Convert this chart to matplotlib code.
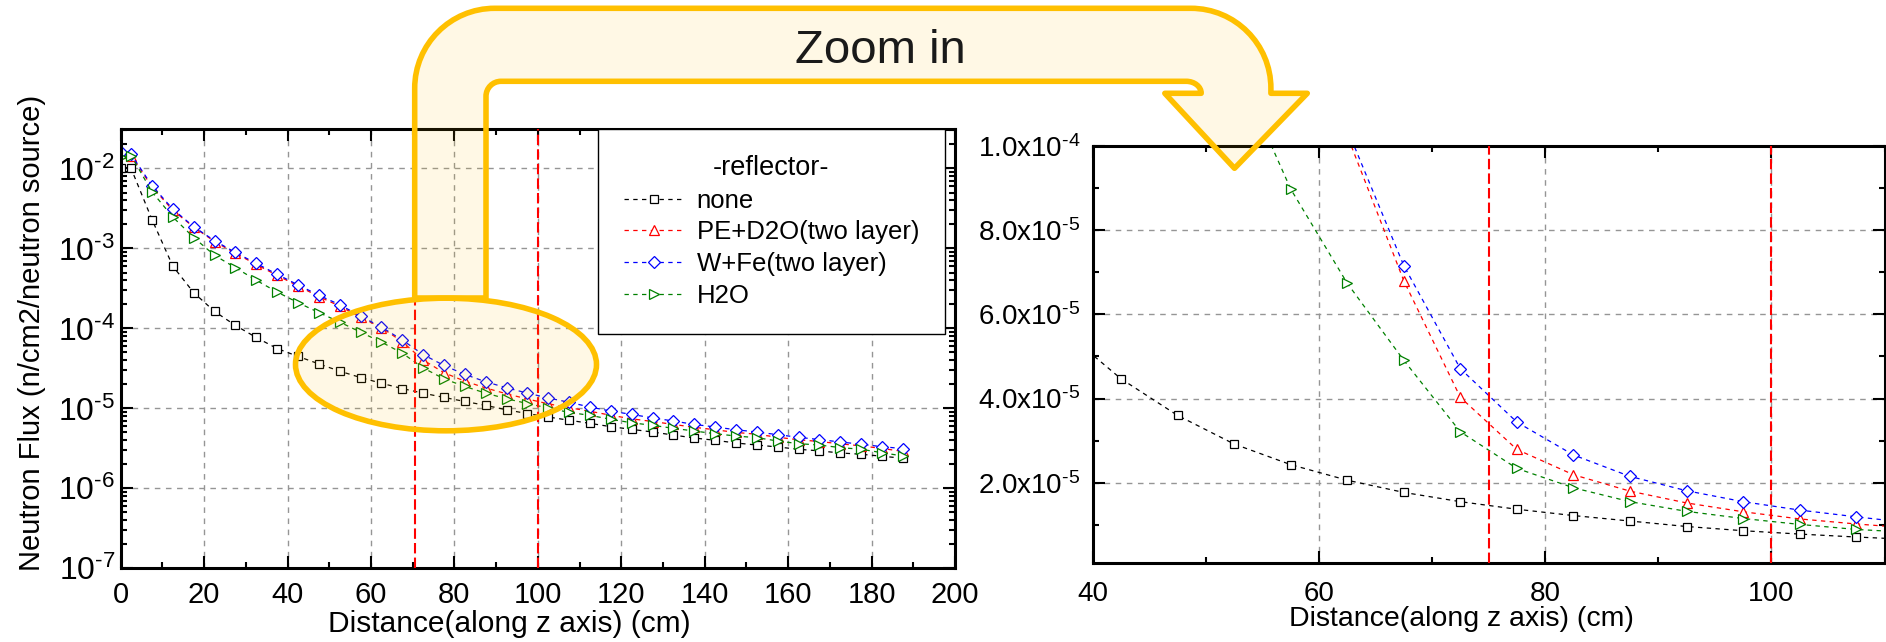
import numpy as np
import matplotlib.pyplot as plt
from matplotlib.path import Path
from matplotlib.patches import PathPatch, Ellipse
from matplotlib.ticker import MultipleLocator, LogLocator, FixedLocator, FuncFormatter, NullFormatter

plt.rcParams['font.family'] = ['Liberation Sans', 'DejaVu Sans']
plt.rcParams['mathtext.fontset'] = 'custom'
plt.rcParams['mathtext.rm'] = 'Liberation Sans'
plt.rcParams['mathtext.it'] = 'Liberation Sans:italic'
plt.rcParams['mathtext.bf'] = 'Liberation Sans:bold'

# distance along z (cm), bin centres
distance = [0, 2.5, 7.5, 12.5, 17.5, 22.5, 27.5, 32.5, 37.5, 42.5, 47.5, 52.5, 57.5,
            62.5, 67.5, 72.5, 77.5, 82.5, 87.5, 92.5, 97.5, 102.5, 107.5, 112.5, 117.5,
            122.5, 127.5, 132.5, 137.5, 142.5, 147.5, 152.5, 157.5, 162.5, 167.5, 172.5,
            177.5, 182.5, 187.5]

# neutron flux (n/cm2/neutron source) per reflector type
flux_none = [1.0e-2, 1.0e-2, 2.3e-3, 6.0e-4, 2.8e-4, 1.63e-4, 1.09e-4, 7.7e-5, 5.6e-5,
             4.47e-5, 3.60e-5, 2.92e-5, 2.43e-5, 2.06e-5, 1.77e-5, 1.55e-5, 1.37e-5,
             1.22e-5, 1.09e-5, 9.6e-6, 8.6e-6, 7.8e-6, 7.1e-6, 6.5e-6, 5.9e-6, 5.47e-6,
             5.06e-6, 4.64e-6, 4.26e-6, 3.99e-6, 3.69e-6, 3.48e-6, 3.29e-6, 3.08e-6,
             2.94e-6, 2.77e-6, 2.67e-6, 2.52e-6, 2.38e-6]
flux_pe_d2o = [1.55e-2, 1.45e-2, 5.9e-3, 3.0e-3, 1.85e-3, 1.22e-3, 8.7e-4, 6.3e-4, 4.6e-4,
               3.4e-4, 2.5e-4, 1.9e-4, 1.38e-4, 1.025e-4, 6.8e-5, 4.03e-5, 2.79e-5,
               2.19e-5, 1.80e-5, 1.52e-5, 1.31e-5, 1.14e-5, 1.02e-5, 9.2e-6, 8.2e-6,
               7.4e-6, 6.85e-6, 6.3e-6, 5.8e-6, 5.4e-6, 5.0e-6, 4.75e-6, 4.35e-6,
               4.05e-6, 3.85e-6, 3.6e-6, 3.4e-6, 3.15e-6, 2.9e-6]
flux_w_fe = [1.6e-2, 1.5e-2, 6.1e-3, 3.1e-3, 1.87e-3, 1.25e-3, 8.9e-4, 6.5e-4, 4.75e-4,
             3.5e-4, 2.6e-4, 1.98e-4, 1.42e-4, 1.04e-4, 7.16e-5, 4.71e-5, 3.44e-5,
             2.66e-5, 2.15e-5, 1.81e-5, 1.55e-5, 1.35e-5, 1.19e-5, 1.04e-5, 9.25e-6,
             8.4e-6, 7.6e-6, 6.95e-6, 6.3e-6, 5.85e-6, 5.4e-6, 5.06e-6, 4.69e-6,
             4.35e-6, 4.07e-6, 3.8e-6, 3.56e-6, 3.32e-6, 3.14e-6]
flux_h2o = [1.4e-2, 1.45e-2, 5.1e-3, 2.47e-3, 1.37e-3, 8.2e-4, 5.75e-4, 4.0e-4, 2.85e-4,
            2.1e-4, 1.58e-4, 1.2e-4, 8.98e-5, 6.74e-5, 4.91e-5, 3.21e-5, 2.34e-5,
            1.88e-5, 1.55e-5, 1.32e-5, 1.15e-5, 1.01e-5, 8.9e-6, 8.18e-6, 7.3e-6,
            6.6e-6, 6.14e-6, 5.63e-6, 5.21e-6, 4.82e-6, 4.51e-6, 4.3e-6, 3.91e-6,
            3.62e-6, 3.48e-6, 3.23e-6, 3.08e-6, 2.79e-6, 2.54e-6]

labels = ['none', 'PE+D2O(two layer)', 'W+Fe(two layer)', 'H2O']
colors = ['#000000', '#ff0000', '#0000ff', '#008000']
markers = ['s', '^', 'D', '>']
msizes = [5.5, 6.5, 6, 6.5]

cut_left = [70.5, 100]
cut_right = [75, 100]

W, H = 1886, 642
fig = plt.figure(figsize=(W / 100, H / 100), dpi=100)


def px_box(left, top, right, bottom):
    return [left / W, 1 - bottom / H, (right - left) / W, (bottom - top) / H]


def to_fig(pts):
    pts = np.asarray(pts, dtype=float)
    return np.column_stack([pts[:, 0] / W, 1 - pts[:, 1] / H])


ax1 = fig.add_axes(px_box(120.7, 129.3, 955, 568.3))
ax2 = fig.add_axes(px_box(1092.7, 146, 1884.5, 562.7))

for ax in (ax1, ax2):
    for y, lab, c, m, ms in zip([flux_none, flux_pe_d2o, flux_w_fe, flux_h2o],
                                labels, colors, markers, msizes):
        ax.plot(distance, y, color=c, ls=(0, (3.5, 3.5)), lw=0.9, marker=m, ms=ms,
                mfc='white', mec=c, mew=0.9, label=lab)
    for s in ax.spines.values():
        s.set_linewidth(2.2)
    ax.tick_params(which='both', direction='in', top=True, right=True, width=1.5,
                   labelsize=20)
    ax.tick_params(which='major', length=8.5)
    ax.tick_params(which='minor', length=4.5)
    ax.grid(True, which='major', color='#959595', ls=(0, (4, 4)), lw=1)

# full range, log scale
ax1.set_yscale('log')
ax1.set_xlim(0, 200)
ax1.set_ylim(1e-7, 10 ** -1.51)
ax1.xaxis.set_major_locator(MultipleLocator(20))
ax1.xaxis.set_minor_locator(MultipleLocator(10))
ax1.yaxis.set_major_locator(LogLocator(base=10, numticks=20))
ax1.yaxis.set_minor_locator(LogLocator(base=10, subs=np.arange(2, 10), numticks=20))
ax1.yaxis.set_minor_formatter(NullFormatter())
ax1.yaxis.set_major_formatter(FuncFormatter(
    lambda v, p: r'$\mathregular{10^{\text{-}%d}}$' % abs(round(np.log10(v)))))
ax1.tick_params(axis='y', pad=4, labelsize=23)
ax1.tick_params(axis='x', pad=9, labelsize=21)
for xc in cut_left:
    ax1.axvline(xc, color='#ff0000', ls=(0, (5, 2)), lw=1.5, zorder=3)
ax1.set_xlabel('Distance(along z axis) (cm)', fontsize=21.5)
ax1.xaxis.set_label_coords(0.466, -0.095)
ax1.set_ylabel('Neutron Flux (n/cm2/neutron source)', fontsize=21)
ax1.yaxis.set_label_coords(-0.09, 0.535)

leg = ax1.legend(title='-reflector-', loc='upper right', bbox_to_anchor=(0.988, 1.0),
                 borderaxespad=0, fontsize=18.5, title_fontsize=19.5, fancybox=False,
                 framealpha=1, edgecolor='black', numpoints=1, handlelength=2.4,
                 handletextpad=0.45, borderpad=1.0, labelspacing=0.3)
leg.get_frame().set_linewidth(1.0)
leg.set_zorder(5)

# zoomed linear view
ax2.set_xlim(40, 110)
ax2.set_ylim(1e-6, 1e-4)
ax2.xaxis.set_major_locator(MultipleLocator(20))
ax2.xaxis.set_minor_locator(MultipleLocator(10))
ax2.yaxis.set_major_locator(FixedLocator([2e-5, 4e-5, 6e-5, 8e-5, 1e-4]))
ax2.yaxis.set_minor_locator(FixedLocator([1e-5, 3e-5, 5e-5, 7e-5, 9e-5]))


def sci_label(v, p):
    e = int(np.floor(np.log10(v) + 1e-9))
    return r'$\mathregular{%.1fx10^{\text{-}%d}}$' % (v / 10 ** e, abs(e))


ax2.yaxis.set_major_formatter(FuncFormatter(sci_label))
ax2.tick_params(axis='y', pad=9)
ax2.tick_params(axis='x', pad=13)
for xc in cut_right:
    ax2.axvline(xc, color='#ff0000', ls=(0, (5, 2)), lw=1.5, zorder=3)
ax2.set_xlabel('Distance(along z axis) (cm)', fontsize=20.5)
ax2.xaxis.set_label_coords(0.466, -0.105)

# bent "zoom in" arrow and highlight ellipse, in figure pixels
gold = '#FFC000'
fill = (1.0, 0.75, 0.0, 0.1)
k = 0.5523
r = 80
arrow_pts = [
    (414.7, 298), (414.7, 8.3 + r),
    (414.7, 8.3 + r - k * r), (414.7 + r - k * r, 8.3), (414.7 + r, 8.3),
    (1270.9 - r, 8.3),
    (1270.9 - r + k * r, 8.3), (1270.9, 8.3 + r - k * r), (1270.9, 8.3 + r),
    (1270.9, 93.3), (1307.3, 93.3), (1234.5, 168.3), (1164.8, 93.3), (1201.2, 93.3),
    (1201.2, 86.7), (1194.5, 81.3), (1186.2, 81.3),
    (501.0, 81.3),
    (492.7, 81.3), (486.0, 88.0), (486.0, 96.3),
    (486.0, 298), (414.7, 298),
]
codes = [Path.MOVETO, Path.LINETO,
         Path.CURVE4, Path.CURVE4, Path.CURVE4,
         Path.LINETO,
         Path.CURVE4, Path.CURVE4, Path.CURVE4,
         Path.LINETO, Path.LINETO, Path.LINETO, Path.LINETO, Path.LINETO,
         Path.CURVE4, Path.CURVE4, Path.CURVE4,
         Path.LINETO,
         Path.CURVE4, Path.CURVE4, Path.CURVE4,
         Path.LINETO, Path.CLOSEPOLY]
arrow = PathPatch(Path(to_fig(arrow_pts), codes), transform=fig.transFigure,
                  facecolor=fill, edgecolor=gold, lw=4, joinstyle='round', zorder=10)
fig.add_artist(arrow)

ell = Ellipse((446 / W, 1 - 364.5 / H), 301 / W, 132.6 / H, transform=fig.transFigure,
              facecolor=fill, edgecolor=gold, lw=4, zorder=10)
fig.add_artist(ell)

fig.text(880 / W, 1 - 63 / H, 'Zoom in', ha='center', va='baseline', fontsize=34,
         color='#1a1a1a', zorder=11)

fig.savefig('out.png', dpi=100)
